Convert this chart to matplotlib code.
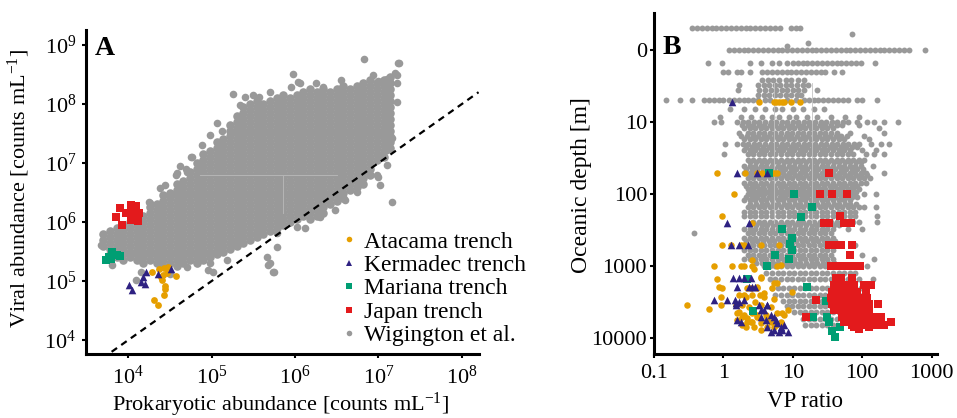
import numpy as np
import matplotlib.pyplot as plt
from matplotlib.lines import Line2D

plt.rcParams['font.family'] = ['Liberation Serif', 'DejaVu Serif']
plt.rcParams['mathtext.fontset'] = 'custom'
plt.rcParams['mathtext.rm'] = 'Liberation Serif'
plt.rcParams['mathtext.it'] = 'Liberation Serif:italic'
plt.rcParams['mathtext.bf'] = 'Liberation Serif:bold'

GREY = '#999999'
C_ATA = '#E69F00'
C_KER = '#2E2182'
C_MAR = '#009E73'
C_JAP = '#E31A1C'

# ---------------- panel A (log10 counts per mL) ----------------
# Wigington et al. cloud, read column by column: (log10 prokaryotes, [log10 viruses])
grey_a_cols = [
    (3.70, [5.6, 5.7, 5.8]),
    (3.78, [5.45, 5.55, 5.65, 5.75, 5.85]),
    (3.86, [5.4, 5.5, 5.6, 5.7, 5.8, 5.9]),
    (3.94, [5.35, 5.45, 5.55, 5.65, 5.75, 5.85, 5.95]),
    (4.02, [5.4, 5.5, 5.6, 5.7, 5.8, 5.9, 6.0]),
    (4.10, [5.35, 5.45, 5.55, 5.65, 5.75, 5.85, 5.95, 6.05]),
    (4.18, [5.3, 5.4, 5.5, 5.6, 5.7, 5.8, 5.9, 6.0, 6.1]),
    (4.26, [5.35, 5.45, 5.55, 5.65, 5.75, 5.85, 5.95, 6.05, 6.15, 6.25]),
    (4.34, [5.3, 5.4, 5.5, 5.6, 5.7, 5.8, 5.9, 6.0, 6.1, 6.2, 6.3]),
    (4.42, [5.25, 5.35, 5.45, 5.55, 5.65, 5.75, 5.85, 5.95, 6.05, 6.15, 6.25, 6.35, 6.45]),
    (4.50, [5.3, 5.4, 5.5, 5.6, 5.7, 5.8, 5.9, 6.0, 6.1, 6.2, 6.3, 6.4, 6.5]),
    (4.58, [5.25, 5.35, 5.45, 5.55, 5.65, 5.75, 5.85, 5.95, 6.05, 6.15, 6.25, 6.35, 6.45, 6.55, 6.65]),
    (4.66, [5.3, 5.4, 5.5, 5.6, 5.7, 5.8, 5.9, 6.0, 6.1, 6.2, 6.3, 6.4, 6.5, 6.6, 6.7]),
    (4.74, [5.35, 5.45, 5.55, 5.65, 5.75, 5.85, 5.95, 6.05, 6.15, 6.25, 6.35, 6.45, 6.55, 6.65, 6.75, 6.85]),
    (4.82, [5.3, 5.4, 5.5, 5.6, 5.7, 5.8, 5.9, 6.0, 6.1, 6.2, 6.3, 6.4, 6.5, 6.6, 6.7, 6.8, 6.9, 7.0]),
    (4.90, [5.35, 5.45, 5.55, 5.65, 5.75, 5.85, 5.95, 6.05, 6.15, 6.25, 6.35, 6.45, 6.55, 6.65, 6.75, 6.85, 6.95, 7.05, 7.15]),
    (4.98, [5.4, 5.5, 5.6, 5.7, 5.8, 5.9, 6.0, 6.1, 6.2, 6.3, 6.4, 6.5, 6.6, 6.7, 6.8, 6.9, 7.0, 7.1, 7.2]),
    (5.06, [5.45, 5.55, 5.65, 5.75, 5.85, 5.95, 6.05, 6.15, 6.25, 6.35, 6.45, 6.55, 6.65, 6.75, 6.85, 6.95, 7.05, 7.15, 7.25, 7.35]),
    (5.14, [5.5, 5.6, 5.7, 5.8, 5.9, 6.0, 6.1, 6.2, 6.3, 6.4, 6.5, 6.6, 6.7, 6.8, 6.9, 7.0, 7.1, 7.2, 7.3, 7.4]),
    (5.22, [5.55, 5.65, 5.75, 5.85, 5.95, 6.05, 6.15, 6.25, 6.35, 6.45, 6.55, 6.65, 6.75, 6.85, 6.95, 7.05, 7.15, 7.25, 7.35, 7.45, 7.55, 7.65]),
    (5.30, [5.6, 5.7, 5.8, 5.9, 6.0, 6.1, 6.2, 6.3, 6.4, 6.5, 6.6, 6.7, 6.8, 6.9, 7.0, 7.1, 7.2, 7.3, 7.4, 7.5, 7.6, 7.7, 7.8]),
    (5.38, [5.65, 5.75, 5.85, 5.95, 6.05, 6.15, 6.25, 6.35, 6.45, 6.55, 6.65, 6.75, 6.85, 6.95, 7.05, 7.15, 7.25, 7.35, 7.45, 7.55, 7.65, 7.75, 7.85, 7.95]),
    (5.46, [5.7, 5.8, 5.9, 6.0, 6.1, 6.2, 6.3, 6.4, 6.5, 6.6, 6.7, 6.8, 6.9, 7.0, 7.1, 7.2, 7.3, 7.4, 7.5, 7.6, 7.7, 7.8, 7.9, 8.0]),
    (5.54, [5.75, 5.85, 5.95, 6.05, 6.15, 6.25, 6.35, 6.45, 6.55, 6.65, 6.75, 6.85, 6.95, 7.05, 7.15, 7.25, 7.35, 7.45, 7.55, 7.65, 7.75, 7.85, 7.95, 8.05]),
    (5.62, [5.8, 5.9, 6.0, 6.1, 6.2, 6.3, 6.4, 6.5, 6.6, 6.7, 6.8, 6.9, 7.0, 7.1, 7.2, 7.3, 7.4, 7.5, 7.6, 7.7, 7.8, 7.9, 8.0]),
    (5.70, [5.85, 5.95, 6.05, 6.15, 6.25, 6.35, 6.45, 6.55, 6.65, 6.75, 6.85, 6.95, 7.05, 7.15, 7.25, 7.35, 7.45, 7.55, 7.65, 7.75, 7.85, 7.95, 8.05]),
    (5.78, [5.9, 6.0, 6.1, 6.2, 6.3, 6.4, 6.5, 6.6, 6.7, 6.8, 6.9, 7.0, 7.1, 7.2, 7.3, 7.4, 7.5, 7.6, 7.7, 7.8, 7.9, 8.0, 8.1]),
    (5.86, [5.95, 6.05, 6.15, 6.25, 6.35, 6.45, 6.55, 6.65, 6.75, 6.85, 6.95, 7.05, 7.15, 7.25, 7.35, 7.45, 7.55, 7.65, 7.75, 7.85, 7.95, 8.05, 8.15]),
    (5.94, [6.0, 6.1, 6.2, 6.3, 6.4, 6.5, 6.6, 6.7, 6.8, 6.9, 7.0, 7.1, 7.2, 7.3, 7.4, 7.5, 7.6, 7.7, 7.8, 7.9, 8.0, 8.1]),
    (6.02, [6.05, 6.15, 6.25, 6.35, 6.45, 6.55, 6.65, 6.75, 6.85, 6.95, 7.05, 7.15, 7.25, 7.35, 7.45, 7.55, 7.65, 7.75, 7.85, 7.95, 8.05, 8.15]),
    (6.10, [6.1, 6.2, 6.3, 6.4, 6.5, 6.6, 6.7, 6.8, 6.9, 7.0, 7.1, 7.2, 7.3, 7.4, 7.5, 7.6, 7.7, 7.8, 7.9, 8.0, 8.1, 8.2]),
    (6.18, [6.05, 6.15, 6.25, 6.35, 6.45, 6.55, 6.65, 6.75, 6.85, 6.95, 7.05, 7.15, 7.25, 7.35, 7.45, 7.55, 7.65, 7.75, 7.85, 7.95, 8.05, 8.15, 8.25]),
    (6.26, [6.1, 6.2, 6.3, 6.4, 6.5, 6.6, 6.7, 6.8, 6.9, 7.0, 7.1, 7.2, 7.3, 7.4, 7.5, 7.6, 7.7, 7.8, 7.9, 8.0, 8.1, 8.2]),
    (6.34, [6.15, 6.25, 6.35, 6.45, 6.55, 6.65, 6.75, 6.85, 6.95, 7.05, 7.15, 7.25, 7.35, 7.45, 7.55, 7.65, 7.75, 7.85, 7.95, 8.05, 8.15, 8.25]),
    (6.42, [6.3, 6.4, 6.5, 6.6, 6.7, 6.8, 6.9, 7.0, 7.1, 7.2, 7.3, 7.4, 7.5, 7.6, 7.7, 7.8, 7.9, 8.0, 8.1, 8.2]),
    (6.50, [6.35, 6.45, 6.55, 6.65, 6.75, 6.85, 6.95, 7.05, 7.15, 7.25, 7.35, 7.45, 7.55, 7.65, 7.75, 7.85, 7.95, 8.05, 8.15, 8.25]),
    (6.58, [6.4, 6.5, 6.6, 6.7, 6.8, 6.9, 7.0, 7.1, 7.2, 7.3, 7.4, 7.5, 7.6, 7.7, 7.8, 7.9, 8.0, 8.1, 8.2, 8.3]),
    (6.66, [6.55, 6.65, 6.75, 6.85, 6.95, 7.05, 7.15, 7.25, 7.35, 7.45, 7.55, 7.65, 7.75, 7.85, 7.95, 8.05, 8.15, 8.25]),
    (6.74, [6.6, 6.7, 6.8, 6.9, 7.0, 7.1, 7.2, 7.3, 7.4, 7.5, 7.6, 7.7, 7.8, 7.9, 8.0, 8.1, 8.2, 8.3]),
    (6.82, [6.65, 6.75, 6.85, 6.95, 7.05, 7.15, 7.25, 7.35, 7.45, 7.55, 7.65, 7.75, 7.85, 7.95, 8.05, 8.15, 8.25, 8.35]),
    (6.90, [6.8, 6.9, 7.0, 7.1, 7.2, 7.3, 7.4, 7.5, 7.6, 7.7, 7.8, 7.9, 8.0, 8.1, 8.2, 8.3, 8.4]),
    (6.98, [7.05, 7.15, 7.25, 7.35, 7.45, 7.55, 7.65, 7.75, 7.85, 7.95, 8.05, 8.15, 8.25, 8.35]),
    (7.06, [7.1, 7.2, 7.3, 7.4, 7.5, 7.6, 7.7, 7.8, 7.9, 8.0, 8.1, 8.2, 8.3, 8.4]),
    (7.14, [7.25, 7.35, 7.45, 7.55, 7.65, 7.75, 7.85, 7.95, 8.05, 8.15, 8.25, 8.35, 8.45]),
]
# scattered Wigington points around the cloud edge
grey_a_out_x = [6.83, 7.23, 5.98, 6.04, 7.10, 7.00, 7.22, 5.26, 5.06, 4.98, 4.76, 4.58, 4.70, 4.38,
                4.26, 7.16, 7.02, 7.16, 6.98, 6.74, 6.60, 6.30, 6.02, 5.78, 5.78, 5.66, 5.70, 5.74,
                5.54, 5.26, 4.98, 4.82, 4.70, 4.15, 5.01, 5.75, 5.67, 3.81, 3.67, 4.09, 5.25, 4.69,
                4.75, 4.57, 5.49, 5.57, 6.06, 6.34, 6.94, 7.02, 7.14, 7.20, 7.24, 7.22, 7.22, 7.10,
                7.08, 7.02, 7.10, 7.02, 7.10, 7.00, 6.86, 6.86, 4.25, 4.44, 4.62, 4.88, 5.12, 5.34,
                5.40, 5.70, 5.95, 6.25, 6.55, 4.50, 4.95, 5.18, 6.12, 6.48]
grey_a_out_y = [8.77, 8.70, 8.51, 8.38, 8.42, 8.39, 8.49, 8.17, 7.67, 7.47, 7.11, 6.83, 6.85, 6.57,
                6.32, 7.42, 6.63, 6.34, 6.80, 6.51, 6.37, 6.09, 5.92, 5.81, 5.58, 5.41, 5.30, 5.16,
                5.81, 5.64, 5.30, 5.30, 5.24, 5.16, 5.16, 5.16, 5.27, 5.27, 5.61, 5.02, 5.61, 6.89,
                7.10, 6.80, 8.15, 8.12, 8.35, 8.29, 8.49, 8.38, 8.44, 8.52, 8.70, 8.35, 8.04, 8.18,
                7.81, 7.50, 7.22, 7.11, 6.97, 6.77, 7.73, 7.56, 6.34, 6.62, 6.95, 7.30, 7.55, 7.98,
                8.12, 8.20, 8.28, 8.36, 8.40, 5.12, 5.18, 5.35, 5.90, 6.20]

ata_a_x = [4.29, 4.37, 4.43, 4.48, 4.42, 4.41, 4.44, 4.44, 4.43, 4.31, 4.36, 4.57, 4.47, 4.39]
ata_a_y = [5.16, 5.20, 5.22, 5.24, 5.10, 5.02, 4.92, 4.86, 4.77, 4.68, 4.59, 5.09, 5.13, 5.06]
ker_a_x = [4.01, 4.05, 4.15, 4.20, 4.18, 4.21, 4.36, 4.51]
ker_a_y = [4.93, 4.84, 4.99, 4.95, 5.06, 5.16, 5.12, 5.20]
mar_a_x = [3.73, 3.79, 3.81, 3.87, 3.90, 3.77]
mar_a_y = [5.35, 5.37, 5.50, 5.44, 5.42, 5.40]
jap_a_x = [3.90, 4.03, 4.09, 4.01, 4.07, 4.13, 3.85, 3.93, 4.03, 4.12, 4.05, 3.97]
jap_a_y = [6.23, 6.29, 6.27, 6.15, 6.18, 6.15, 6.09, 5.95, 6.03, 6.01, 6.12, 6.16]

# ---------------- panel B (VP ratio vs depth in m) ----------------
# Wigington et al. rows: (depth, [log10 VP])
grey_b_rows = [
    (-1.5, [-0.45, -0.38, -0.31, -0.24, -0.17, -0.10, -0.03, 0.04, 0.11, 0.18, 0.25, 0.32, 0.39, 0.46,
            0.53, 0.60, 0.67, 0.74, 0.81, 0.97, 1.04, 1.10]),
    (-1.06, [1.85]), (-0.43, [1.22]), (-0.25, [0.92]),
    (0, [0.08, 0.15, 0.22, 0.29, 0.36, 0.43, 0.50, 0.57, 0.64, 0.71, 0.78, 0.85, 0.92, 0.99, 1.06, 1.13,
         1.20, 1.27, 1.34, 1.41, 1.48, 1.55, 1.62, 1.69, 1.76, 1.83, 1.90, 1.97, 2.04, 2.11, 2.18, 2.25,
         2.32, 2.39, 2.46, 2.53, 2.60, 2.67, 2.90]),
    (0.83, [-0.22, -0.02, 0.38, 0.54, 0.70, 0.80, 0.92, 1.00, 1.07, 1.14, 1.21, 1.28, 1.35, 1.42, 1.49,
            1.56, 1.63, 1.70, 1.77, 1.84, 1.91, 1.98, 2.19]),
    (1.5, [0.00, 0.07, 0.19, 0.26, 0.38, 0.56, 0.63, 0.70, 0.77, 0.84, 0.91, 0.98, 1.05, 1.12, 1.19,
           1.26, 1.33, 1.40, 1.47, 1.59, 1.71]),
    (2.2, [0.55, 0.64, 0.72, 0.80, 0.90, 0.98, 1.08, 1.16]),
    (2.7, [0.23, 0.50, 0.58, 0.66, 0.74, 0.82, 0.90, 0.98, 1.06, 1.14, 1.22]),
    (3.3, [0.21, 0.52, 0.60, 0.68, 0.76, 0.84, 0.92, 1.00, 1.08, 1.16, 1.35]),
    (4.0, [0.50, 0.58, 0.66, 0.74, 0.82, 0.90, 0.98, 1.06, 1.12]),
    (4.7, [-0.82, -0.62, -0.45, -0.28, -0.21, -0.14, -0.07, 0.00, 0.08, 0.15, 0.22, 0.29, 0.36, 0.43,
           0.50, 0.60, 0.67, 0.92, 1.04, 1.16, 1.23, 1.30, 1.37, 1.44, 1.51, 1.58, 1.65, 1.72, 1.80,
           1.93, 2.00, 2.22]),
    (6.5, [0.10, 0.30, 0.45, 0.60, 0.75, 0.85, 1.00, 1.15, 1.30, 1.45]),
    (8.5, [-0.05, 0.25, 0.40, 0.55, 0.70, 0.80, 0.95, 1.05, 1.20, 1.35, 1.55, 1.75, 1.95]),
    (10, [-0.14, -0.04, 0.20, 0.28, 0.36, 0.44, 0.52, 0.60, 0.68, 0.76, 0.84, 0.92, 1.00, 1.08, 1.16,
          1.24, 1.32, 1.40, 1.48, 1.56, 1.64, 1.72, 1.80, 1.93, 2.07, 2.17, 2.31, 2.51]),
    (11, [0.27, 0.35, 0.43, 0.51, 0.59, 0.67, 0.75, 0.83, 0.91, 0.99, 1.07, 1.15, 1.23, 1.31, 1.39,
          1.47, 1.55, 1.63, 1.71, 1.95]),
    (12, [0.30, 0.38, 0.46, 0.54, 0.62, 0.70, 0.78, 0.86, 0.94, 1.02, 1.10, 1.18, 1.26, 1.34, 1.42,
          1.50, 1.58, 2.24]),
    (14, [0.22, 0.35, 0.43, 0.51, 0.59, 0.67, 0.75, 0.83, 0.91, 0.99, 1.07, 1.15, 1.23, 1.31, 1.39,
          1.47, 1.55, 1.64, 1.83, 2.31]),
    (15.5, [0.26, 0.34, 0.42, 0.50, 0.58, 0.66, 0.74, 0.82, 0.90, 0.98, 1.06, 1.14, 1.22, 1.30, 1.38,
            1.46, 1.54, 1.62, 1.70, 1.78, 2.02]),
    (17, [0.30, 0.38, 0.46, 0.54, 0.62, 0.70, 0.78, 0.86, 0.94, 1.02, 1.10, 1.18, 1.26, 1.34, 1.42,
          1.50, 1.58, 1.66, 1.74, 2.10]),
    (20, [0.03, 0.20, 0.28, 0.36, 0.44, 0.52, 0.60, 0.68, 0.76, 0.84, 0.92, 1.00, 1.08, 1.16, 1.24,
          1.32, 1.40, 1.48, 1.56, 1.64, 1.72, 1.80, 1.88, 1.96, 2.12, 2.27, 2.39]),
    (22, [0.33, 0.41, 0.49, 0.57, 0.65, 0.73, 0.81, 0.89, 0.97, 1.05, 1.13, 1.21, 1.29, 1.37, 1.45,
          1.53, 1.61, 1.69, 1.77, 1.85, 1.93]),
    (24, [0.30, 0.38, 0.46, 0.54, 0.62, 0.70, 0.78, 0.86, 0.94, 1.02, 1.10, 1.18, 1.26, 1.34, 1.42,
          1.50, 1.58, 1.66, 1.74, 1.82, 2.00, 2.20]),
    (28, [0.01, 0.35, 0.43, 0.51, 0.59, 0.67, 0.75, 0.83, 0.91, 0.99, 1.07, 1.15, 1.23, 1.31, 1.39,
          1.47, 1.55, 1.63, 1.71, 1.79, 1.87, 2.05, 2.17, 2.31]),
    (33, [0.35, 0.43, 0.51, 0.59, 0.67, 0.75, 0.83, 0.91, 0.99, 1.07, 1.15, 1.23, 1.31, 1.39, 1.47,
          1.55, 1.63, 1.71, 1.79, 1.87, 1.95, 2.03]),
    (36, [0.39, 0.47, 0.55, 0.63, 0.71, 0.79, 0.87, 0.95, 1.03, 1.11, 1.19, 1.27, 1.35, 1.43, 1.51,
          1.59, 1.67, 1.75, 1.83, 1.91, 1.99]),
    (40, [0.30, 0.38, 0.46, 0.54, 0.62, 0.70, 0.78, 0.86, 0.94, 1.02, 1.10, 1.18, 1.26, 1.34, 1.42,
          1.50, 1.58, 1.66, 1.74, 1.82, 1.90, 1.98, 2.15]),
    (45, [0.33, 0.41, 0.49, 0.57, 0.65, 0.73, 0.81, 0.89, 0.97, 1.05, 1.13, 1.21, 1.29, 1.37, 1.45,
          1.53, 1.61, 1.69, 1.77, 1.85, 1.93, 2.01]),
    (50, [0.30, 0.38, 0.46, 0.54, 0.62, 0.70, 0.78, 0.86, 0.94, 1.02, 1.10, 1.18, 1.26, 1.34, 1.42,
          1.50, 1.58, 1.66, 1.74, 1.82, 1.90, 1.98, 2.06, 2.31]),
    (55, [0.39, 0.47, 0.55, 0.63, 0.71, 0.79, 0.87, 0.95, 1.03, 1.11, 1.19, 1.27, 1.35, 1.43, 1.51,
          1.59, 1.67, 1.75, 1.83, 1.91, 1.99, 2.07]),
    (60, [0.35, 0.43, 0.51, 0.59, 0.67, 0.75, 0.83, 0.91, 0.99, 1.07, 1.15, 1.23, 1.31, 1.39, 1.47,
          1.55, 1.63, 1.71, 1.79, 1.87, 1.95, 2.03, 2.11]),
    (70, [0.30, 0.38, 0.46, 0.54, 0.62, 0.70, 0.78, 0.86, 0.94, 1.02, 1.10, 1.18, 1.26, 1.34, 1.42,
          1.50, 1.58, 1.66, 1.74, 1.82, 1.90, 1.98, 2.06]),
    (77, [0.33, 0.41, 0.49, 0.57, 0.65, 0.73, 0.81, 0.89, 0.97, 1.05, 1.13, 1.21, 1.29, 1.37, 1.45,
          1.53, 1.61, 1.69, 1.77, 1.85, 1.93]),
    (85, [0.35, 0.43, 0.51, 0.59, 0.67, 0.75, 0.83, 0.91, 0.99, 1.07, 1.15, 1.23, 1.31, 1.39, 1.47,
          1.55, 1.63, 1.71, 1.79, 1.87, 1.95]),
    (92, [0.39, 0.47, 0.55, 0.63, 0.71, 0.79, 0.87, 0.95, 1.03, 1.11, 1.19, 1.27, 1.35, 1.43, 1.51,
          1.59, 1.67, 1.75, 1.83, 1.91]),
    (100, [0.35, 0.43, 0.51, 0.59, 0.67, 0.75, 0.83, 0.91, 0.99, 1.07, 1.15, 1.23, 1.31, 1.39, 1.47,
           1.55, 1.63, 1.71, 1.79, 1.87, 2.03, 2.20]),
    (110, [0.33, 0.41, 0.49, 0.57, 0.65, 0.73, 0.81, 0.89, 0.97, 1.05, 1.13, 1.21, 1.29, 1.37, 1.45,
           1.53, 1.61, 1.69, 1.77, 1.85, 1.93]),
    (120, [0.30, 0.38, 0.46, 0.54, 0.62, 0.70, 0.78, 0.86, 0.94, 1.02, 1.10, 1.18, 1.26, 1.34, 1.42,
           1.50, 1.58, 1.66, 1.74, 1.82]),
    (135, [0.39, 0.47, 0.55, 0.63, 0.71, 0.79, 0.87, 0.95, 1.03, 1.11, 1.19, 1.27, 1.35, 1.43, 1.51,
           1.59, 1.67, 1.75, 1.83, 1.91]),
    (150, [0.35, 0.43, 0.51, 0.59, 0.67, 0.75, 0.83, 0.91, 0.99, 1.07, 1.15, 1.23, 1.31, 1.39, 1.47,
           1.55, 1.63, 1.71, 1.79, 1.87, 1.95, 2.03, 2.20]),
    (175, [0.30, 0.38, 0.46, 0.54, 0.62, 0.70, 0.78, 0.86, 0.94, 1.02, 1.10, 1.18, 1.26, 1.34, 1.42,
           1.50, 1.58, 1.66, 1.74, 1.82, 1.90]),
    (200, [0.30, 0.38, 0.46, 0.54, 0.62, 0.70, 0.78, 0.86, 0.94, 1.02, 1.10, 1.18, 1.26, 1.34, 1.42,
           1.50, 1.58, 1.66, 1.74, 1.82, 1.90, 2.22]),
    (240, [0.43, 0.51, 0.59, 0.67, 0.75, 0.83, 0.91, 0.99, 1.07, 1.15, 1.23, 1.31, 1.39, 1.47, 1.55,
           1.63, 1.71, 1.79, 1.87, 1.95, 2.22]),
    (270, [0.39, 0.47, 0.55, 0.63, 0.71, 0.79, 0.87, 0.95, 1.03, 1.11, 1.19, 1.27, 1.35, 1.43, 1.51,
           1.59, 1.67]),
    (300, [0.30, 0.38, 0.46, 0.54, 0.62, 0.70, 0.78, 0.86, 0.94, 1.02, 1.10, 1.18, 1.26, 1.34, 1.42,
           1.50, 1.58, 1.79, 2.00]),
    (350, [-0.42, 0.35, 0.43, 0.51, 0.59, 0.67, 0.75, 0.83, 0.91, 0.99, 1.07, 1.15, 1.23, 1.31, 1.39,
           1.47, 1.55]),
    (400, [0.30, 0.38, 0.46, 0.54, 0.62, 0.70, 0.78, 0.86, 0.94, 1.02, 1.10, 1.18, 1.26, 1.34, 1.42,
           1.50, 1.58]),
    (450, [0.33, 0.41, 0.49, 0.57, 0.65, 0.73, 0.81, 0.89, 0.97, 1.05, 1.13, 1.21, 1.29, 1.37, 1.45,
           1.53, 1.61]),
    (500, [0.35, 0.43, 0.51, 0.59, 0.67, 0.75, 0.83, 0.91, 0.99, 1.07, 1.15, 1.23, 1.31, 1.39, 1.47,
           1.55, 1.90]),
    (600, [0.30, 0.38, 0.46, 0.54, 0.62, 0.70, 0.78, 0.86, 0.94, 1.02, 1.10, 1.18, 1.26, 1.34, 1.42,
           1.50, 1.58]),
    (700, [0.35, 0.43, 0.51, 0.59, 0.67, 0.75, 0.83, 0.91, 0.99, 1.07, 1.15, 1.23, 1.31, 1.39, 1.47,
           1.55, 2.00]),
    (800, [0.30, 0.38, 0.46, 0.54, 0.62, 0.70, 0.78, 0.86, 0.94, 1.02, 1.10, 1.18, 1.26, 1.34, 1.42,
           1.50, 1.58, 2.17]),
    (900, [0.47, 0.55, 0.63, 0.71, 0.79, 0.87, 0.95, 1.03, 1.11, 1.19, 1.27, 1.35, 1.43, 1.51, 1.59]),
    (1000, [0.59, 0.67, 0.75, 0.83, 0.91, 0.99, 1.07, 1.15, 1.23, 1.31, 1.39, 1.47, 1.55, 2.07]),
    (1250, [0.62, 0.70, 0.78, 0.86, 0.94, 1.02, 1.10, 1.18, 1.26, 1.34, 1.42, 1.50, 1.58, 1.66, 1.74,
            1.82, 1.90]),
    (1500, [0.67, 0.75, 0.83, 0.91, 0.99, 1.07, 1.15, 1.23, 1.31, 1.39, 1.47, 1.55, 1.63, 1.71, 1.79,
            1.87, 1.95, 2.15]),
    (2000, [0.70, 0.78, 0.86, 0.94, 1.02, 1.10, 1.18, 1.26, 1.34, 1.42, 1.50, 1.58, 1.66, 1.74, 1.82,
            1.90, 1.98, 2.06]),
    (2500, [0.75, 0.83, 0.91, 0.99, 1.07, 1.15, 1.23, 1.31, 1.39, 1.47, 1.55, 1.63, 1.71, 1.79, 1.87,
            1.95]),
    (3000, [0.86, 0.94, 1.02, 1.10, 1.18, 1.26, 1.34, 1.42, 1.50, 1.58, 1.66]),
    (3500, [0.91, 0.99, 1.07, 1.15, 1.23, 1.31, 1.39, 1.47, 1.55, 1.63, 1.71]),
    (4300, [1.02, 1.10, 1.18, 1.26, 1.34, 1.42, 1.50, 1.58, 1.66, 1.74]),
    (5300, [1.15, 1.23, 1.31, 1.39, 1.47, 1.55, 1.63, 1.71]),
    (6500, [1.18, 1.26, 1.34, 1.42, 1.50, 1.58]),
]

ata_b_vp = [3.3, 5.4, 5.8, 6.3, 6.9, 7.5, 9.3, 12.7, 0.82, 2.03, 3.09, 3.65, 5.36, 5.86, 1.42, 0.94,
            2.62, 0.97, 1.27, 1.77, 1.98, 3.44, 6.3, 2.6, 0.73, 1.35, 1.78, 1.98, 2.62, 6.0, 6.7, 2.75,
            0.82, 3.44, 3.45, 5.4, 6.0, 0.87, 0.97, 2.22, 2.47, 3.02, 3.09, 5.1, 3.86, 9.6, 0.92, 2.1,
            3.86, 5.4, 1.68, 1.95, 2.6, 3.4, 2.9, 0.30, 0.92, 1.54, 1.88, 3.45, 2.35, 4.8, 0.62, 8.4,
            1.59, 2.62, 6.0, 7.1, 1.68, 1.88, 3.09, 1.98, 3.09, 4.07, 7.5, 4.3, 2.21, 1.59, 2.2, 2.62,
            2.47, 4.8, 6.7, 3.45, 6.7, 1.88, 5.7, 2.1, 2.8, 4.3, 5.4, 3.45]
ata_b_depth = [5, 5, 5, 5, 5, 5, 5, 5, 50, 50, 50, 50, 50, 50, 100, 200,
               250, 500, 500, 500, 500, 500, 500, 810, 1000, 1000, 1000, 1000, 1000, 1000, 960, 1100,
               1480, 1470, 1390, 1720, 1720, 1920, 2000, 2000, 2000, 2000, 1920, 2000, 2370, 2300, 2636, 2636,
               2636, 2800, 2500, 2500, 2500, 2500, 3090, 3445, 3445, 3445, 3445, 3445, 3630, 3630, 3955, 4040,
               4490, 4490, 4490, 4490, 4260, 5000, 5000, 4750, 4750, 4750, 4750, 5280, 5260, 5560, 5860, 5860,
               5870, 5870, 5870, 6180, 6180, 6520, 6520, 6870, 6870, 6870, 6870, 7650]
ker_b_vp = [1.35, 1.56, 3.02, 4.2, 1.11, 2.34, 1.27, 1.68, 2.29, 1.39, 1.68, 1.98, 2.47, 1.55, 2.35,
            2.62, 2.85, 0.73, 1.14, 1.47, 1.98, 1.67, 1.52, 1.5, 4.2, 3.27, 4.3, 3.86, 3.45, 4.8, 3.45,
            5.4, 1.59, 4.1, 5.7, 1.78, 6.0, 7.5, 6.7, 4.3, 7.1, 5.4, 8.4, 4.8, 6.3]
ker_b_depth = [5, 50, 50, 50, 250, 250, 500, 500, 500, 1470, 1470, 1470, 1470, 1950, 1920,
               1950, 1950, 2900, 2930, 2930, 2930, 3090, 3240, 3440, 3440, 3445, 3445, 4040, 4040, 4730, 5000,
               5000, 5560, 5560, 5560, 5860, 6180, 6520, 6870, 6870, 7650, 7650, 8070, 8070, 8070]
mar_b_vp = [4.5, 10.4, 19.2, 13.0, 6.9, 9.8, 9.0, 9.9, 5.5, 8.8, 4.3, 2.2, 15.9, 29.9, 19.5, 31.5,
            33.3, 47.9, 37.0, 40.6, 2.7]
mar_b_depth = [50, 100, 150, 205, 300, 400, 490, 590, 690, 780, 990, 1490, 1960, 3000, 5000, 5000,
               5860, 6870, 7800, 9670, 4100]
jap_b_vp = [33.4, 24.5, 37.3, 61.4, 47.6, 28.3, 33.4, 55, 70, 33.4, 41.7, 50, 72.5, 66,
            35, 39, 44, 49, 55, 62, 70, 78, 87, 93, 41.5, 49, 72,
            39, 46, 58, 65, 76, 106, 132, 37, 44, 55, 68, 85, 112,
            35, 41.5, 52, 61, 76, 95, 119, 21.4, 37, 46, 58, 72, 90, 112, 125, 171,
            39, 49, 61, 76, 101, 125, 15.3, 52, 61, 72, 85, 106, 132, 166, 185,
            54, 68, 85, 101, 119, 148, 185, 259, 72, 96, 119, 140, 166, 207, 75, 125, 90]
jap_b_depth = [50, 100, 100, 100, 200, 250, 250, 250, 250, 500, 500, 500, 500, 700,
               1000, 1000, 1000, 1000, 1000, 1000, 1000, 1000, 1000, 1000, 1470, 1470, 1470,
               1820, 1820, 1820, 1820, 1820, 1820, 1820, 2250, 2250, 2250, 2250, 2250, 2250,
               2780, 2780, 2780, 2780, 2780, 2780, 2780, 2940, 3370, 3370, 3370, 3370, 3370, 3370, 3370, 3370,
               4040, 4040, 4040, 4040, 4040, 4040, 5000, 5000, 5000, 5000, 5000, 5000, 5000, 5000, 5000,
               5860, 5860, 5860, 5860, 5860, 5860, 5860, 5860, 6520, 6520, 6520, 6520, 6520, 6520, 7030, 7030, 7400]

legend_labels = ['Atacama trench', 'Kermadec trench', 'Mariana trench', 'Japan trench', 'Wigington et al.']


def fwd(d):
    return np.arcsinh(np.asarray(d, dtype=float) / 2) / np.log(10)


def inv(p):
    return 2 * np.sinh(np.asarray(p, dtype=float) * np.log(10))


fig = plt.figure(figsize=(9.57, 4.18), dpi=100)
axa = fig.add_axes([86 / 957, 1 - 354 / 418, 393 / 957, 324 / 418])
axb = fig.add_axes([654 / 957, 1 - 354 / 418, 283 / 957, 341 / 418])

# ---- panel A ----
gx = [c for c, ys in grey_a_cols for _ in ys]
gy = [y for c, ys in grey_a_cols for y in ys]
axa.scatter(10 ** np.array(gx), 10 ** np.array(gy), s=38, color=GREY, linewidths=0, zorder=1)
axa.scatter(10 ** np.array(grey_a_out_x), 10 ** np.array(grey_a_out_y), s=30, color=GREY,
            linewidths=0, zorder=1)
# faint crosshair inside the cloud
axa.plot([10 ** 4.86, 10 ** 6.5], [10 ** 6.8, 10 ** 6.8], color='#b5b5b5', lw=0.7, zorder=2)
axa.plot([10 ** 5.855, 10 ** 5.855], [10 ** 6.15, 10 ** 6.8], color='#b5b5b5', lw=0.7, zorder=2)
axa.plot([10 ** 3.8, 10 ** 8.2], [10 ** 3.8, 10 ** 8.2], color='black', lw=1.6,
         linestyle=(0, (3, 2.3)), zorder=3)
axa.scatter(10 ** np.array(ata_a_x), 10 ** np.array(ata_a_y), s=24, marker='o', color=C_ATA, linewidths=0, zorder=4)
axa.scatter(10 ** np.array(ker_a_x), 10 ** np.array(ker_a_y), s=30, marker='^', color=C_KER, linewidths=0, zorder=4)
axa.scatter(10 ** np.array(mar_a_x), 10 ** np.array(mar_a_y), s=34, marker='s', color=C_MAR, linewidths=0, zorder=4)
axa.scatter(10 ** np.array(jap_a_x), 10 ** np.array(jap_a_y), s=26, marker='s', color=C_JAP, linewidths=0, zorder=4)

axa.set_xscale('log')
axa.set_yscale('log')
axa.set_xlim(10 ** 3.493, 10 ** 8.205)
axa.set_ylim(10 ** 3.763, 10 ** 9.254)
axa.set_xticks([10 ** k for k in range(4, 9)])
axa.set_xticklabels([r'$10^{%d}$' % k for k in range(4, 9)])
axa.set_yticks([10 ** k for k in range(4, 10)])
axa.set_yticklabels([r'$10^{%d}$' % k for k in range(4, 10)])
axa.minorticks_off()
axa.set_xlabel(r'Prokaryotic abundance [counts mL$^{\mathregular{-1}}$]', fontsize=16)
axa.set_ylabel(r'Viral abundance [counts mL$^{\mathregular{-1}}$]', fontsize=16)
axa.xaxis.set_label_coords(0.494, -0.115)
axa.yaxis.set_label_coords(-0.137, 0.512)
axa.text(0.023, 0.981, 'A', transform=axa.transAxes, fontsize=20, fontweight='bold',
         ha='left', va='top')

handles = [
    Line2D([], [], ls='none', marker='o', ms=4, color=C_ATA, mew=0),
    Line2D([], [], ls='none', marker='^', ms=4.5, color=C_KER, mew=0),
    Line2D([], [], ls='none', marker='s', ms=4, color=C_MAR, mew=0),
    Line2D([], [], ls='none', marker='s', ms=4, color=C_JAP, mew=0),
    Line2D([], [], ls='none', marker='o', ms=4, color=GREY, mew=0),
]
axa.legend(handles, legend_labels, loc='upper left', bbox_to_anchor=(340 / 957, 1 - 231 / 418),
           bbox_transform=fig.transFigure, frameon=False, fontsize=17, handlelength=0.8,
           handletextpad=0.2, labelspacing=0.08, borderpad=0, borderaxespad=0)

# ---- panel B ----
bx = [v for d, vs in grey_b_rows for v in vs]
by = [d for d, vs in grey_b_rows for _ in vs]
axb.set_yscale('function', functions=(fwd, inv))
axb.set_xscale('log')
axb.scatter(10 ** np.array(bx), by, s=18, color=GREY, linewidths=0, zorder=1)
axb.plot([5.36, 5.36], [2.5, 250], color='#c4c4c4', lw=0.6, zorder=2)
axb.plot([19.2, 19.2], [2.5, 250], color='#c4c4c4', lw=0.6, zorder=2)
axb.scatter(ata_b_vp, ata_b_depth, s=22, marker='o', color=C_ATA, linewidths=0, zorder=4)
axb.scatter(ker_b_vp, ker_b_depth, s=30, marker='^', color=C_KER, linewidths=0, zorder=5)
axb.scatter(mar_b_vp, mar_b_depth, s=34, marker='s', color=C_MAR, linewidths=0, zorder=4)
axb.scatter(jap_b_vp, jap_b_depth, s=28, marker='s', color=C_JAP, linewidths=0, zorder=4)

axb.set_xlim(0.1, 10 ** 3.078)
axb.set_ylim(inv(4.216), inv(-0.513))
axb.set_xticks([0.1, 1, 10, 100, 1000])
axb.set_xticklabels(['0.1', '1', '10', '100', '1000'])
axb.set_yticks([0, 10, 100, 1000, 10000])
axb.set_yticklabels(['0', '10', '100', '1000', '10000'])
axb.minorticks_off()
axb.set_xlabel('VP ratio', fontsize=16.5)
axb.set_ylabel('Oceanic depth [m]', fontsize=17)
axb.xaxis.set_label_coords(0.534, -0.1085)
axb.yaxis.set_label_coords(-0.219, 0.496)
axb.text(0.032, 0.935, 'B', transform=axb.transAxes, fontsize=20, fontweight='bold',
         ha='left', va='top')

for ax in (axa, axb):
    ax.spines['top'].set_visible(False)
    ax.spines['right'].set_visible(False)
    ax.spines['left'].set_linewidth(2.2)
    ax.spines['bottom'].set_linewidth(2.2)
    ax.tick_params(axis='both', labelsize=16, length=3, width=1.5, color='black')
axa.tick_params(axis='x', pad=5)
axa.tick_params(axis='y', pad=4)
axb.tick_params(axis='x', pad=4)
axb.tick_params(axis='y', pad=2)

fig.savefig('out.png', dpi=100)
